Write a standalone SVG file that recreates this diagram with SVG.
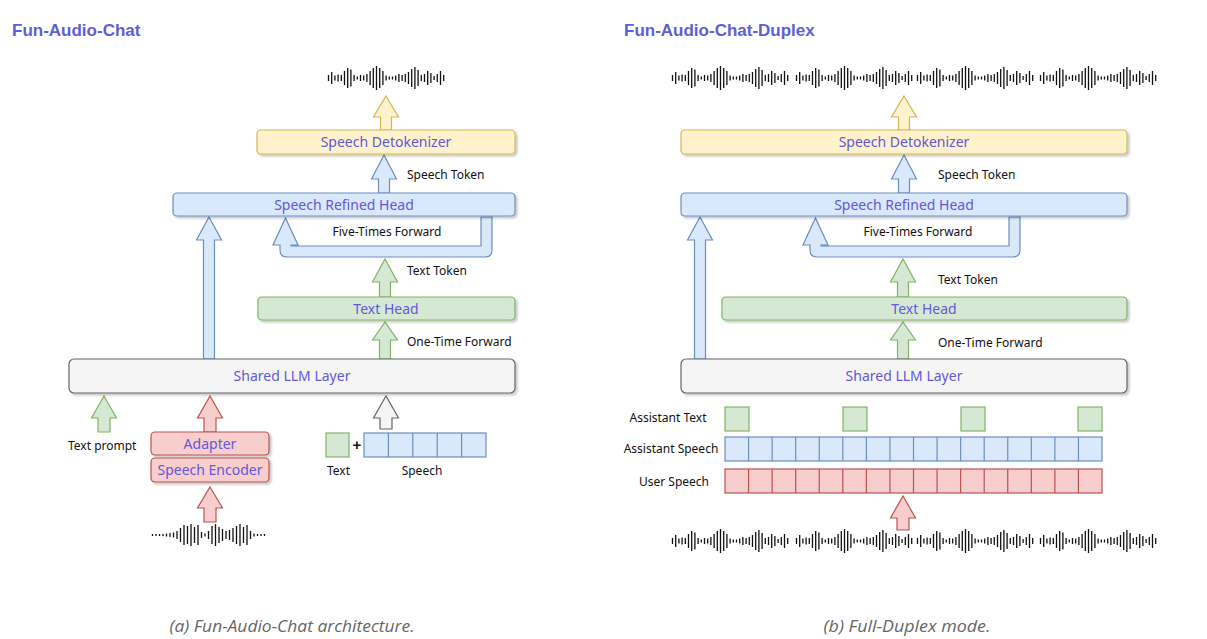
<svg xmlns="http://www.w3.org/2000/svg" width="1207" height="639" viewBox="0 0 1207 639">
<style>
.title{font-family:"Liberation Sans",Arial,sans-serif;font-weight:bold;font-size:17px;fill:#5d5fd4}
.blabel{font-family:"Noto Sans","DejaVu Sans",sans-serif;font-size:14px;fill:#6358d6;text-anchor:middle}
.lbl{font-family:"Noto Sans","DejaVu Sans",sans-serif;font-size:12px;fill:#111}
.cap{font-family:"Open Sans","Noto Sans",sans-serif;font-style:italic;font-size:16px;fill:#666;text-anchor:middle}
.yellow{fill:#fff2cc;stroke:#d6b656;stroke-width:1.2}
.blue{fill:#dae8fc;stroke:#6c8ebf;stroke-width:1.2}
.green{fill:#d5e8d4;stroke:#82b366;stroke-width:1.2}
.red{fill:#f8cecc;stroke:#b85450;stroke-width:1.2}
.gray{fill:#f5f5f5;stroke:#666666;stroke-width:1.2}
.wave{fill:none;stroke:#111;stroke-width:1.3}
.box{filter:url(#sh)}
</style>
<defs>
<filter id="sh" x="-10%" y="-30%" width="120%" height="170%">
<feDropShadow dx="2" dy="2" stdDeviation="1.2" flood-color="#000" flood-opacity="0.22"/>
</filter>
<path id="waveA" class="wave" d="M0.5 -3v6M3.7 -6v12M6.9 -2.5v5M10.1 -3.5v7M13.3 -3v6M16.5 -7v14M19.7 -10v20M22.9 -8.5v17M26.1 -3v6M29.3 -1.5v3M32.5 -3v6M35.7 -2.5v5M38.9 -4v8M42.1 -7v14M45.3 -10v20M48.5 -12v24M51.7 -10v20M54.9 -7v14M58.1 -2.5v5M61.3 -1.5v3M64.5 -1.5v3M67.7 -2.5v5M70.9 -4v8M74.1 -3v6M77.3 -4v8M80.5 -6v12M83.7 -9v18M86.9 -11v22M90.1 -8v16M93.3 -3v6M96.5 -4v8M99.7 -7v14M102.9 -5v10M106.1 -2v4M109.3 -4v8M112.5 -7v14M115.7 -3v6"/>
<path id="waveB" class="wave" d="M0.5 -1v2M4 -1v2M7.5 -1v2M11 -1v2M14.5 -1.5v3M18 -2v4M21.5 -2.5v5M25 -4v8M28.5 -7v14M32 -10v20M35.5 -9v18M39 -11v22M42.5 -8v16M46 -10v20M49.5 -3v6M53 -1.5v3M56.5 -4v8M60 -9v18M63.5 -11v22M67 -8v16M70.5 -6v12M74 -4v8M77.5 -5v10M81 -7v14M84.5 -9v18M88 -11v22M91.5 -8v16M95 -10v20M98.5 -4v8M102 -1.5v3M105.5 -1v2M109 -1v2M112.5 -1v2"/>
</defs>
<rect width="1207" height="639" fill="#ffffff"/>

<!-- titles -->
<text class="title" x="12" y="36">Fun-Audio-Chat</text>
<text class="title" x="624" y="36">Fun-Audio-Chat-Duplex</text>

<!-- connectors -->
<g id="connectors">
  <!-- left panel -->
  <path class="yellow" d="M386 96 L398.5 117 L391.5 117 L391.5 130 L380.5 130 L380.5 117 L373.5 117 Z"/>
  <path class="blue" d="M384 155 L396.5 179 L389.5 179 L389.5 193 L378.5 193 L378.5 179 L371.5 179 Z"/>
  <path class="blue" d="M209 217 L221.5 240 L214.5 240 L214.5 359 L203.5 359 L203.5 240 L196.5 240 Z"/>
  <path class="blue" d="M481 217 L492 217 L492 250 Q492 257 485 257 L287 257 Q280 257 280 250 L280 245 L273 245 L285.5 218 L298 245 L291 245 L291 246 L481 246 Z"/>
  <path class="green" d="M385 259 L397.5 282 L390.5 282 L390.5 297 L379.5 297 L379.5 282 L372.5 282 Z"/>
  <path class="green" d="M385 322 L397.5 340 L390.5 340 L390.5 359 L379.5 359 L379.5 340 L372.5 340 Z"/>
  <path class="green" d="M104 396 L116.5 418 L110 418 L110 432 L98 432 L98 418 L91.5 418 Z"/>
  <path class="red" d="M210 396 L222.5 418 L216 418 L216 432 L204 432 L204 418 L197.5 418 Z"/>
  <path class="gray" d="M386 396 L398.5 418 L392 418 L392 429 L380 429 L380 418 L373.5 418 Z"/>
  <path class="red" d="M210 487 L222.5 508 L216 508 L216 522 L204 522 L204 508 L197.5 508 Z"/>
  <!-- right panel -->
  <path class="yellow" d="M904 96 L916.5 117 L909.5 117 L909.5 130 L898.5 130 L898.5 117 L891.5 117 Z"/>
  <path class="blue" d="M904 155 L916.5 179 L909.5 179 L909.5 193 L898.5 193 L898.5 179 L891.5 179 Z"/>
  <path class="blue" d="M700 217 L712.5 240 L705.5 240 L705.5 359 L694.5 359 L694.5 240 L687.5 240 Z"/>
  <path class="blue" d="M1009 217 L1020 217 L1020 250 Q1020 257 1013 257 L817 257 Q810 257 810 250 L810 245 L803 245 L815.5 218 L828 245 L821 245 L821 246 L1009 246 Z"/>
  <path class="green" d="M903 259 L915.5 282 L908.5 282 L908.5 297 L897.5 297 L897.5 282 L890.5 282 Z"/>
  <path class="green" d="M903 322 L915.5 340 L908.5 340 L908.5 359 L897.5 359 L897.5 340 L890.5 340 Z"/>
  <path class="red" d="M903 496 L915.5 518 L909 518 L909 530 L897 530 L897 518 L890.5 518 Z"/>
</g>

<!-- connector labels -->
<g id="labels">
  <text class="lbl" x="407" y="179">Speech Token</text>
  <text class="lbl" x="387" y="236" text-anchor="middle">Five-Times Forward</text>
  <text class="lbl" x="407" y="275">Text Token</text>
  <text class="lbl" x="407" y="346">One-Time Forward</text>
  <text class="lbl" x="938" y="179">Speech Token</text>
  <text class="lbl" x="918" y="236" text-anchor="middle">Five-Times Forward</text>
  <text class="lbl" x="938" y="284">Text Token</text>
  <text class="lbl" x="938" y="347">One-Time Forward</text>
</g>

<!-- left panel nodes -->
<g id="waveOutL"><use href="#waveA" x="328" y="78"/></g>
<g id="detokL"><rect class="yellow box" x="257" y="130" width="258" height="24" rx="4"/><text class="blabel" x="386" y="147">Speech Detokenizer</text></g>
<g id="refinedL"><rect class="blue box" x="173" y="193" width="342" height="23" rx="4"/><text class="blabel" x="344" y="210">Speech Refined Head</text></g>
<g id="textHeadL"><rect class="green box" x="258" y="297" width="257" height="23" rx="4"/><text class="blabel" x="386" y="314">Text Head</text></g>
<g id="llmL"><rect class="gray box" x="69" y="359" width="446" height="34" rx="5"/><text class="blabel" x="292" y="381">Shared LLM Layer</text></g>
<g id="textPrompt"><text class="lbl" x="68" y="450">Text prompt</text></g>
<g id="adapter"><rect class="red box" x="151" y="432" width="118" height="23" rx="4"/><text class="blabel" x="210" y="449">Adapter</text></g>
<g id="encoder"><rect class="red box" x="151" y="458" width="118" height="24" rx="4"/><text class="blabel" x="210" y="475">Speech Encoder</text></g>
<g id="waveInL"><use href="#waveB" x="152" y="535"/></g>
<g id="textTok"><rect class="green" x="326" y="433" width="23" height="24"/><text class="lbl" x="327" y="475">Text</text></g>
<g id="plus"><text x="357" y="450" font-family="Liberation Sans,Arial,sans-serif" font-weight="bold" font-size="15" fill="#111" text-anchor="middle">+</text></g>
<g id="speechToks"><rect class="blue" x="364" y="433" width="122" height="24"/><path d="M388.4 433v24M412.8 433v24M437.2 433v24M461.6 433v24" stroke="#6c8ebf" stroke-width="1.2" fill="none"/><text class="lbl" x="422" y="475" text-anchor="middle">Speech</text></g>

<!-- right panel nodes -->
<g id="waveOutR"><use href="#waveA" x="672" y="78"/><use href="#waveA" x="796" y="78"/><use href="#waveA" x="917" y="78"/><use href="#waveA" x="1040" y="78"/></g>
<g id="detokR"><rect class="yellow box" x="681" y="130" width="446" height="24" rx="4"/><text class="blabel" x="904" y="147">Speech Detokenizer</text></g>
<g id="refinedR"><rect class="blue box" x="681" y="193" width="446" height="23" rx="4"/><text class="blabel" x="904" y="210">Speech Refined Head</text></g>
<g id="textHeadR"><rect class="green box" x="722" y="297" width="405" height="23" rx="4"/><text class="blabel" x="924" y="314">Text Head</text></g>
<g id="llmR"><rect class="gray box" x="681" y="359" width="446" height="34" rx="5"/><text class="blabel" x="904" y="381">Shared LLM Layer</text></g>
<g id="asstText">
  <text class="lbl" x="668" y="422" text-anchor="middle">Assistant Text</text>
  <rect class="green" x="725" y="407" width="24" height="24"/>
  <rect class="green" x="843" y="407" width="24" height="24"/>
  <rect class="green" x="961" y="407" width="24" height="24"/>
  <rect class="green" x="1078" y="407" width="24" height="24"/>
</g>
<g id="asstSpeech">
  <text class="lbl" x="671" y="453" text-anchor="middle">Assistant Speech</text>
  <rect class="blue" x="725" y="437" width="377" height="24"/>
  <path d="M748.56 437v24M772.13 437v24M795.69 437v24M819.25 437v24M842.81 437v24M866.38 437v24M889.94 437v24M913.5 437v24M937.06 437v24M960.63 437v24M984.19 437v24M1007.75 437v24M1031.31 437v24M1054.88 437v24M1078.44 437v24" stroke="#6c8ebf" stroke-width="1.2" fill="none"/>
</g>
<g id="userSpeech">
  <text class="lbl" x="674" y="486" text-anchor="middle">User Speech</text>
  <rect class="red" x="725" y="469" width="377" height="24"/>
  <path d="M748.56 469v24M772.13 469v24M795.69 469v24M819.25 469v24M842.81 469v24M866.38 469v24M889.94 469v24M913.5 469v24M937.06 469v24M960.63 469v24M984.19 469v24M1007.75 469v24M1031.31 469v24M1054.88 469v24M1078.44 469v24" stroke="#b85450" stroke-width="1.2" fill="none"/>
</g>
<g id="waveInR"><use href="#waveA" x="672" y="541"/><use href="#waveA" x="796" y="541"/><use href="#waveA" x="917" y="541"/><use href="#waveA" x="1040" y="541"/></g>

<!-- captions -->
<text class="cap" x="292" y="632" textLength="245" lengthAdjust="spacingAndGlyphs">(a) Fun-Audio-Chat architecture.</text>
<text class="cap" x="907" y="632" textLength="167" lengthAdjust="spacingAndGlyphs">(b) Full-Duplex mode.</text>
</svg>
